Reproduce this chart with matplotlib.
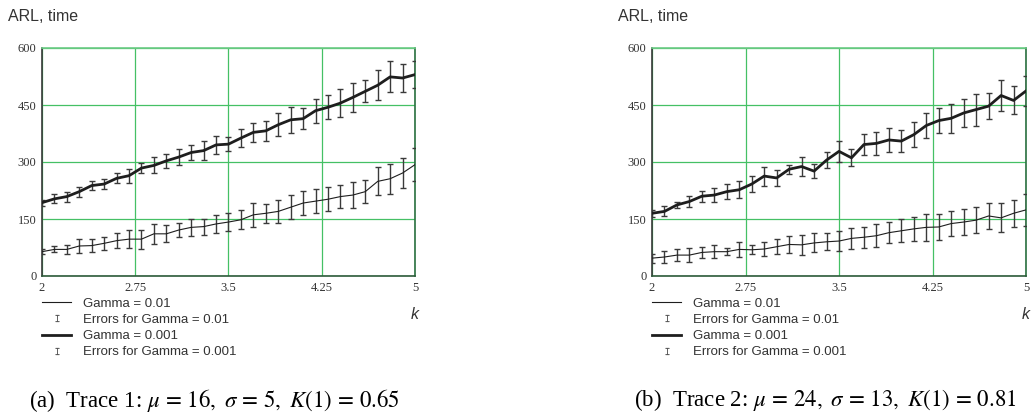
import numpy as np
import matplotlib
matplotlib.use("Agg")
import matplotlib.pyplot as plt
from matplotlib.lines import Line2D

plt.rcParams['mathtext.fontset'] = 'stix'

# k = 2.0, 2.1, ..., 5.0
k_vals = [2.0, 2.1, 2.2, 2.3, 2.4, 2.5, 2.6, 2.7, 2.8, 2.9, 3.0,
          3.1, 3.2, 3.3, 3.4, 3.5, 3.6, 3.7, 3.8, 3.9, 4.0,
          4.1, 4.2, 4.3, 4.4, 4.5, 4.6, 4.7, 4.8, 4.9, 5.0]

# trace 1
arl1_g01 = [64, 70, 70, 79, 80, 86, 93, 97, 97, 111, 111,
            121, 128, 130, 137, 142, 148, 161, 165, 170, 181,
            192, 197, 202, 209, 213, 222, 249, 256, 271, 293]
err1_g01 = [7, 8, 12, 18, 18, 17, 19, 24, 25, 26, 22,
            19, 23, 21, 23, 24, 25, 32, 25, 31, 32,
            32, 32, 32, 31, 35, 30, 37, 39, 39, 44]
arl1_g001 = [193, 203, 209, 222, 238, 242, 257, 264, 284, 291, 303,
             313, 325, 330, 345, 347, 363, 378, 382, 398, 411,
             414, 435, 444, 455, 470, 486, 502, 524, 521, 530]
err1_g001 = [8, 12, 13, 13, 12, 13, 13, 18, 13, 21, 19,
             20, 20, 25, 23, 18, 23, 25, 26, 30, 34,
             28, 32, 32, 37, 39, 29, 40, 41, 36, 35]

# trace 2
arl2_g01 = [47, 50, 55, 55, 62, 64, 64, 70, 69, 71, 77,
            83, 82, 87, 90, 92, 99, 102, 106, 114, 119,
            124, 128, 129, 138, 142, 147, 158, 153, 165, 174]
err2_g01 = [12, 16, 16, 18, 15, 17, 10, 20, 12, 19, 20,
            22, 26, 25, 22, 26, 27, 28, 30, 28, 30,
            32, 36, 35, 33, 35, 35, 34, 38, 36, 42]
arl2_g001 = [165, 170, 187, 196, 210, 213, 222, 227, 242, 263, 258,
             281, 288, 276, 305, 328, 311, 346, 349, 358, 355,
             372, 396, 409, 415, 429, 438, 447, 475, 462, 487]
err2_g001 = [10, 13, 9, 15, 15, 18, 20, 22, 20, 25, 20,
             12, 25, 18, 22, 27, 22, 27, 30, 32, 28,
             32, 33, 32, 38, 36, 42, 34, 40, 37, 40]

captions = [r"(a)  Trace 1: $\mu\,=\,16,\ \sigma\,=\,5,\ K(1)\,=\,0.65$",
            r"(b)  Trace 2: $\mu\,=\,24,\ \sigma\,=\,13,\ K(1)\,=\,0.81$"]

x_ticks = [2, 2.75, 3.5, 4.25, 5]
x_ticklabels = ["2", "2.75", "3.5", "4.25", "5"]
y_ticks = [0, 150, 300, 450, 600]

GRID = '#45c065'
LINE = '#1e1e1e'
ERR = '#3a3a3a'


def draw_panel(ax, y_thin, e_thin, y_thick, e_thick):
    ax.set_xlim(2, 5)
    ax.set_ylim(0, 600)
    ax.set_xticks(x_ticks)
    ax.set_xticklabels(x_ticklabels)
    ax.set_yticks(y_ticks)
    ax.tick_params(length=0, pad=4, labelsize=9, labelcolor='#333333')
    for lab in ax.get_xticklabels() + ax.get_yticklabels():
        lab.set_family('Liberation Serif')
    ax.grid(True, color=GRID, lw=0.9)
    ax.set_axisbelow(True)
    ax.spines['left'].set_color('#3a3a3a')
    ax.spines['bottom'].set_color('#2d5a3a')
    ax.spines['right'].set_color('#2a7040')
    ax.spines['top'].set_color('#6ccb85')
    for s in ax.spines.values():
        s.set_linewidth(1.2)

    ax.errorbar(k_vals, y_thin, yerr=e_thin, fmt='none', ecolor=ERR,
                elinewidth=1.0, capsize=2.2, capthick=1.0, zorder=3)
    ax.errorbar(k_vals, y_thick, yerr=e_thick, fmt='none', ecolor=ERR,
                elinewidth=1.0, capsize=2.2, capthick=1.0, zorder=3)
    ax.plot(k_vals, y_thin, color=LINE, lw=0.8, zorder=4)
    ax.plot(k_vals, y_thick, color=LINE, lw=2.0, zorder=4)

    # small I-beam glyph standing in for the error bars
    err_handle = Line2D([], [], ls='none', marker=r'$\mathtt{I}$',
                        markersize=5, color='#444444', markeredgewidth=0.2)
    handles = [Line2D([], [], color=LINE, lw=0.8), err_handle,
               Line2D([], [], color=LINE, lw=2.0), err_handle]
    labels = ["Gamma = 0.01", "Errors for Gamma = 0.01",
              "Gamma = 0.001", "Errors for Gamma = 0.001"]
    leg = ax.legend(handles, labels, loc='upper left',
                    bbox_to_anchor=(0.0, -0.095), frameon=False,
                    borderpad=0, borderaxespad=0, handlelength=2.2,
                    handletextpad=0.9, labelspacing=0.3,
                    prop={'family': 'Liberation Sans', 'size': 9.5})
    for t in leg.get_texts():
        t.set_color('#333333')

    ax.text(-0.09, 1.105, "ARL, time", transform=ax.transAxes,
            family='Liberation Sans', fontsize=11.5, color='#333333',
            ha='left', va='bottom')
    ax.text(1.0, -0.17, "k", transform=ax.transAxes,
            family='Liberation Sans', style='italic', fontsize=11.5,
            color='#333333', ha='center', va='center')


fig = plt.figure(figsize=(10.34, 4.12), dpi=100)
fig.patch.set_facecolor('white')
ax1 = fig.add_axes([42 / 1034, 1 - 276 / 412, 373 / 1034, 228 / 412])
ax2 = fig.add_axes([652 / 1034, 1 - 276 / 412, 374 / 1034, 228 / 412])

draw_panel(ax1, arl1_g01, err1_g01, arl1_g001, err1_g001)
draw_panel(ax2, arl2_g01, err2_g01, arl2_g001, err2_g001)

fig.text(214 / 1034, 1 - 400 / 412, captions[0], family='Liberation Serif',
         fontsize=16.5, ha='center', va='center')
fig.text(825 / 1034, 1 - 400 / 412, captions[1], family='Liberation Serif',
         fontsize=16.5, ha='center', va='center')

fig.savefig('out.png', dpi=100)
